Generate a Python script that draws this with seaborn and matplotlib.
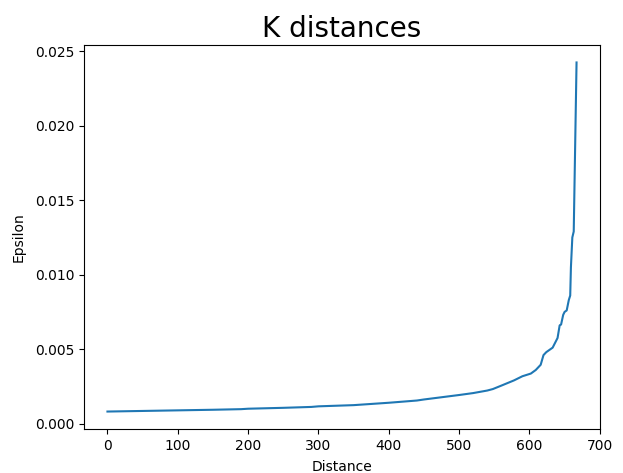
import matplotlib
matplotlib.use("Agg")
import matplotlib.pyplot as plt
import seaborn as sns
import pandas as pd

# Sorted k-distance values (index, epsilon)
point_index = [0, 50, 100, 150, 190, 200, 250, 290, 300, 350, 400, 440, 450,
               480, 500, 520, 540, 548, 560, 578, 590, 602, 609, 616, 620,
               624, 633, 640, 643, 645, 648, 650, 653, 656, 658, 659, 661,
               663, 667]
epsilon = [0.00081, 0.00085, 0.00089, 0.00093, 0.00097, 0.00100, 0.00106,
           0.00112, 0.00116, 0.00124, 0.00140, 0.00155, 0.00162, 0.00180,
           0.00192, 0.00205, 0.00222, 0.00232, 0.00255, 0.00290, 0.00318,
           0.00336, 0.00360, 0.00395, 0.00460, 0.00480, 0.00510, 0.00575,
           0.00660, 0.00665, 0.00730, 0.00750, 0.00760, 0.00830, 0.00860,
           0.01050, 0.01250, 0.01290, 0.02425]

df = pd.DataFrame({"Distance": point_index, "Epsilon": epsilon})

fig = plt.figure(figsize=(6.23, 4.73), dpi=100)
ax = fig.add_axes([84 / 623, (473 - 429) / 473, 516 / 623, 384 / 473])
sns.lineplot(data=df, x="Distance", y="Epsilon", ax=ax, color="#1f77b4", linewidth=1.5)
ax.set_title("K distances", fontsize=20)
ax.set_xlabel("Distance", labelpad=5)
ax.set_ylabel("Epsilon", labelpad=6.5)
fig.savefig("out.png", dpi=100)
